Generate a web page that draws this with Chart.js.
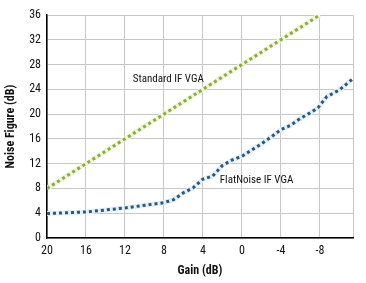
<!DOCTYPE html>
<html>
<head>
<meta charset="utf-8">
<script src="https://cdn.jsdelivr.net/npm/chart.js@4.4.0/dist/chart.umd.min.js"></script>
<style>
  html, body { margin: 0; padding: 0; background: #fff; }
  #wrap { width: 366px; height: 283px; }
</style>
</head>
<body>
<div id="wrap"><canvas id="nf"></canvas></div>
<script>
// gain axis (dB), reversed: 20 on the left
const xTicks = [20, 16, 12, 8, 4, 0, -4, -8, -11.4];
const yTicks = [0, 4, 8, 12, 16, 20, 24, 28, 32, 36];

// Standard IF VGA (straight line)
const stdGain = [20, -8];
const stdNF = [8, 36];

// FlatNoise IF VGA
const flatGain = [20, 16, 12, 8, 7, 6, 5, 4, 3, 2, 1, 0, -1, -2, -3, -4, -5, -6, -7, -7.8, -8.7, -10, -11.3];
const flatNF = [3.95, 4.2, 4.85, 5.7, 6.2, 7.3, 8.1, 9.5, 10, 11.7, 12.6, 13.2, 14.2, 15.2, 16.3, 17.5, 18.2, 19.3, 20.2, 21.0, 22.8, 23.9, 25.6];

function pts(xs, ys) {
    return xs.map(function(x, i) { return { x: x, y: ys[i] }; });
}

const narrow = "'Liberation Sans Narrow', 'Roboto Condensed', 'DejaVu Sans Condensed', sans-serif";

// curve labels drawn in data coordinates
const labelPlugin = {
    id: 'curveLabels',
    afterDatasetsDraw: function(chart) {
        const c = chart.ctx, xs = chart.scales.x, ys = chart.scales.y;
        c.save();
        c.font = '11px ' + narrow;
        c.fillStyle = '#111';
        c.textBaseline = 'middle';
        c.textAlign = 'left';
        c.fillText('Standard IF VGA', xs.getPixelForValue(11.2), ys.getPixelForValue(25.6));
        c.textAlign = 'center';
        c.fillText('FlatNoise IF VGA', xs.getPixelForValue(-1.5), ys.getPixelForValue(9.35));
        c.restore();
    }
};

var ctx = document.getElementById('nf').getContext('2d');
var chart = new Chart(ctx, {
    type: 'line',
    data: {
        datasets: [
            { data: pts(flatGain, flatNF), borderColor: '#2f5877', borderWidth: 3, borderDash: [3, 3], pointRadius: 0, fill: false, tension: 0 },
            { data: pts(stdGain, stdNF), borderColor: '#8aab3e', borderWidth: 3, borderDash: [3, 3], pointRadius: 0, fill: false, tension: 0 },
            { data: pts(flatGain, flatNF), borderColor: '#e2f0f9', borderWidth: 5, pointRadius: 0, fill: false, tension: 0 },
            { data: pts(stdGain, stdNF), borderColor: '#f2f5d8', borderWidth: 5, pointRadius: 0, fill: false, tension: 0 }
        ]
    },
    options: {
        responsive: true,
        maintainAspectRatio: false,
        animation: false,
        layout: { padding: { left: 4, right: 13, top: 15, bottom: 5 } },
        plugins: { legend: { display: false }, tooltip: { enabled: false } },
        scales: {
            x: {
                type: 'linear',
                reverse: true,
                min: -11.4,
                max: 20,
                afterBuildTicks: function(s) { s.ticks = xTicks.map(function(v) { return { value: v }; }); },
                afterFit: function(s) { s.height = 40; },
                grid: { color: '#c8c8c8', drawTicks: false },
                border: { color: '#000', width: 1.5 },
                ticks: {
                    padding: 6,
                    color: '#111',
                    font: { family: narrow, size: 12 },
                    autoSkip: false,
                    maxRotation: 0,
                    callback: function(v) { return v === -11.4 ? '' : String(v); }
                },
                title: { display: true, text: 'Gain (dB)', color: '#111', font: { family: narrow, size: 12, weight: 'bold' }, padding: { top: 4, bottom: 0 } }
            },
            y: {
                min: 0,
                max: 36,
                afterBuildTicks: function(s) { s.ticks = yTicks.map(function(v) { return { value: v }; }); },
                afterFit: function(s) { s.width = 43; },
                grid: { color: '#c8c8c8', drawTicks: false },
                border: { color: '#000', width: 1.5 },
                ticks: { padding: 6, color: '#111', font: { family: narrow, size: 12 } },
                title: { display: true, text: 'Noise Figure (dB)', color: '#111', font: { family: narrow, size: 12, weight: 'bold' }, padding: 0 }
            }
        }
    },
    plugins: [labelPlugin]
});
</script>
</body>
</html>
